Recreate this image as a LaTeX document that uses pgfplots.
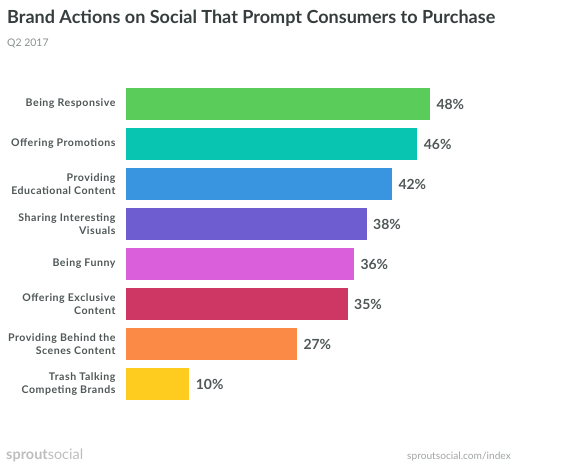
\documentclass[border=0pt]{standalone}
\usepackage{pgfplots}
\pgfplotsset{compat=1.18}
\usepackage{fontspec}
\setmainfont{Lato}
\definecolor{titlegray}{HTML}{363D3D}
\definecolor{labgray}{HTML}{4F5757}
\definecolor{subgray}{HTML}{8A8F8F}
\definecolor{footgray}{HTML}{BDBDBD}
\definecolor{cGreen}{HTML}{5ACC5A}
\definecolor{cTeal}{HTML}{08C5B1}
\definecolor{cBlue}{HTML}{3A95E0}
\definecolor{cPurple}{HTML}{6E5DD1}
\definecolor{cPink}{HTML}{D95FDB}
\definecolor{cRed}{HTML}{CE3764}
\definecolor{cOrange}{HTML}{FB8A46}
\definecolor{cYellow}{HTML}{FECC1E}

\begin{document}
\begin{tikzpicture}[x=1bp,y=1bp]
\useasboundingbox (0,0) rectangle (563,475);
% title block
\node[anchor=base west,font=\bfseries\fontsize{18.1}{20}\selectfont,text=titlegray,inner sep=0]
  at (7,475-24) {Brand Actions on Social That Prompt Consumers to Purchase};
\node[anchor=base west,font=\fontsize{10.5}{12}\selectfont,text=subgray,inner sep=0]
  at (7,475-47) {Q2 2017};

\begin{axis}[
    at={(126bp,71bp)}, anchor=south west,
    scale only axis, width=380bp, height=320bp,
    xmin=0, xmax=60, ymin=-0.5, ymax=7.5,
    y dir=reverse,
    xbar, bar width=32bp, bar shift=0pt,
    axis line style={draw=none}, xtick=\empty,
    ytick={0,...,7}, major tick length=0pt,
    yticklabels={
      {Being Responsive},
      {Offering Promotions},
      {Providing\\Educational Content},
      {Sharing Interesting\\Visuals},
      {Being Funny},
      {Offering Exclusive\\Content},
      {Providing Behind the\\Scenes Content},
      {Trash Talking\\Competing Brands}},
    yticklabel style={align=right,
      font=\bfseries\fontsize{10.6}{13}\selectfont\addfontfeatures{LetterSpace=5},
      text=labgray, xshift=-7bp},
    /pgf/number format/assume math mode=true,
    nodes near coords={\pgfmathprintnumber{\pgfplotspointmeta}\%},
    nodes near coords style={font=\bfseries\fontsize{14}{15}\selectfont,
      text=labgray, anchor=west, xshift=3bp},
    point meta=x,
    every axis plot/.append style={draw=none},
]
\addplot[fill=cGreen]  coordinates {(48,0)};
\addplot[fill=cTeal]   coordinates {(46,1)};
\addplot[fill=cBlue]   coordinates {(42,2)};
\addplot[fill=cPurple] coordinates {(38,3)};
\addplot[fill=cPink]   coordinates {(36,4)};
\addplot[fill=cRed]    coordinates {(35,5)};
\addplot[fill=cOrange] coordinates {(27,6)};
\addplot[fill=cYellow] coordinates {(10,7)};
\end{axis}

% footer
\node[anchor=base west,inner sep=0,text=footgray,font=\fontsize{14.5}{16}\selectfont]
  at (6,475-460) {\textbf{sprout}{\fontseries{l}\selectfont social}};
\node[anchor=base east,inner sep=0,text=subgray!80,font=\fontsize{10.2}{12}\selectfont]
  at (511,475-460) {sproutsocial.com/index};
\end{tikzpicture}
\end{document}
